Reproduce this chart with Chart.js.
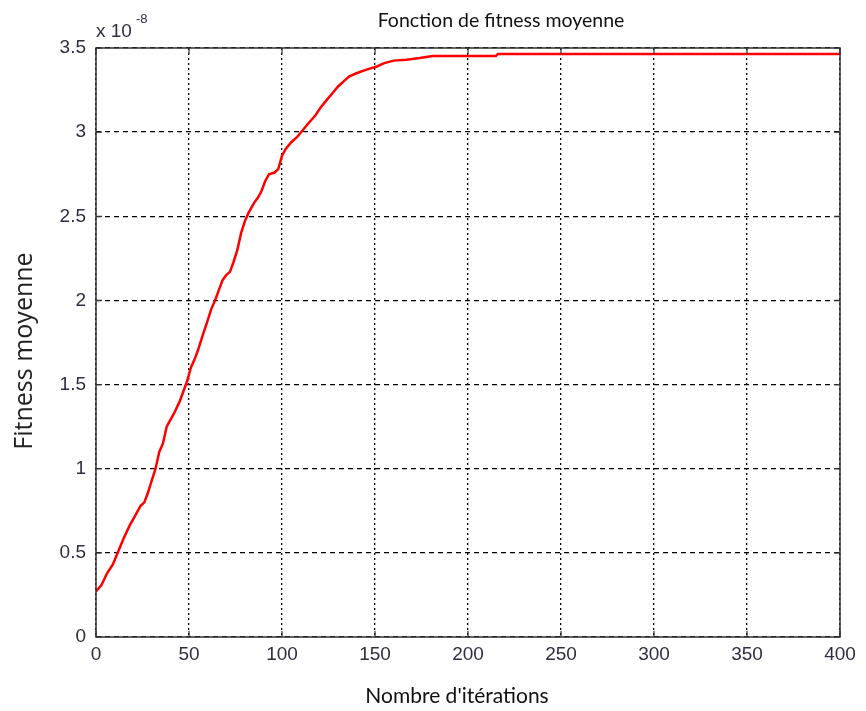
<!DOCTYPE html>
<html>
<head>
<meta charset="utf-8">
<script src="https://cdn.jsdelivr.net/npm/chart.js@4.4.1/dist/chart.umd.min.js"></script>
<style>
html,body{margin:0;padding:0;background:#fff;}
#wrap{width:866px;height:711px;position:relative;}
</style>
</head>
<body>
<div id="wrap"><canvas id="c"></canvas></div>
<script>
// Data (fitness in units of 1e-8)
const iterations = [0,3,6,9,12,15,18,21,24,26,28,30,32,34,36,38,40,42,45,47,49,51,53,55,57,60,62,64,66,68,70,72,74,76,78,80,82,85,87,89,91,93,96,98,100,102,105,108,111,114,118,121,124,127,130,133,136,140,145,151,155,160,167,174,181,215,216,400];
const fitness =    [0.27,0.31,0.38,0.43,0.51,0.59,0.66,0.72,0.78,0.80,0.86,0.93,1.00,1.10,1.15,1.25,1.29,1.33,1.40,1.46,1.52,1.60,1.65,1.71,1.78,1.88,1.95,2.00,2.06,2.12,2.15,2.17,2.23,2.30,2.40,2.47,2.52,2.58,2.61,2.65,2.71,2.75,2.76,2.78,2.86,2.90,2.94,2.97,3.01,3.05,3.10,3.15,3.19,3.23,3.27,3.30,3.33,3.35,3.37,3.39,3.41,3.425,3.43,3.44,3.452,3.452,3.464,3.464];
const xTicks = [0,50,100,150,200,250,300,350,400];
const yTicks = [0,0.5,1,1.5,2,2.5,3,3.5];
const chartTitle = 'Fonction de fitness moyenne';
const xTitle = "Nombre d'itérations";
const yTitle = 'Fitness moyenne';

const points = iterations.map((x,i)=>({x:x,y:fitness[i]}));
const tickColor = '#2e2e40';

const boxPlugin = {
  id:'box',
  afterDraw(chart){
    const {ctx, chartArea:a, scales:{x,y}} = chart;
    ctx.save();
    ctx.strokeStyle = '#333';
    ctx.lineWidth = 1.5;
    ctx.setLineDash([]);
    ctx.strokeRect(a.left, a.top, a.right-a.left, a.bottom-a.top);
    ctx.lineWidth = 1.2;
    ctx.beginPath();
    xTicks.forEach(v=>{
      const px = x.getPixelForValue(v);
      ctx.moveTo(px,a.bottom); ctx.lineTo(px,a.bottom-6);
      ctx.moveTo(px,a.top); ctx.lineTo(px,a.top+6);
    });
    yTicks.forEach(v=>{
      const py = y.getPixelForValue(v);
      ctx.moveTo(a.left,py); ctx.lineTo(a.left+6,py);
      ctx.moveTo(a.right,py); ctx.lineTo(a.right-6,py);
    });
    ctx.stroke();
    // exponent label
    ctx.fillStyle = tickColor;
    ctx.font = '19px "Liberation Sans"';
    ctx.textBaseline = 'alphabetic';
    ctx.textAlign = 'left';
    ctx.fillText('x 10', a.left, a.top-11);
    ctx.font = '13px "Liberation Sans"';
    ctx.fillText('-8', a.left+40, a.top-25);
    // titles
    ctx.fillStyle = '#111';
    ctx.textAlign = 'center';
    ctx.font = '19.5px Lato';
    ctx.fillText(chartTitle, 501, 27);
    ctx.font = '21px Lato';
    ctx.fillText(xTitle, 457, 703);
    ctx.fillStyle = '#222';
    ctx.translate(32, 351);
    ctx.rotate(-Math.PI/2);
    ctx.font = '25px "Open Sans"';
    ctx.fillText(yTitle, 0, 0);
    ctx.restore();
  }
};

new Chart(document.getElementById('c'), {
  type:'line',
  data:{datasets:[{
    data:points,
    borderColor:'#ff0000',
    borderWidth:2.5,
    pointRadius:0,
    tension:0,
    fill:false
  }]},
  options:{
    responsive:true,
    maintainAspectRatio:false,
    animation:false,
    layout:{padding:{left:0,right:26,top:48,bottom:0}},
    plugins:{
      legend:{display:false},
      tooltip:{enabled:false},
      title:{display:false}
    },
    scales:{
      x:{
        type:'linear',
        min:0,max:400,
        afterFit(s){s.height=74;},
        afterBuildTicks(s){s.ticks = xTicks.map(v=>({value:v}));},
        grid:{color:'#000',lineWidth:1.3,drawTicks:false},
        border:{display:false,dash:[2,3]},
        ticks:{color:tickColor,font:{family:'Liberation Sans',size:19},padding:6,maxRotation:0}
      },
      y:{
        type:'linear',
        min:0,max:3.5,
        afterFit(s){s.width=96;},
        afterBuildTicks(s){s.ticks = yTicks.map(v=>({value:v}));},
        grid:{color:'#000',lineWidth:1.3,drawTicks:false},
        border:{display:false,dash:[5,4]},
        ticks:{color:tickColor,font:{family:'Liberation Sans',size:19},padding:10,
          callback:v=>String(v)}
      }
    }
  },
  plugins:[boxPlugin]
});
</script>
</body>
</html>
